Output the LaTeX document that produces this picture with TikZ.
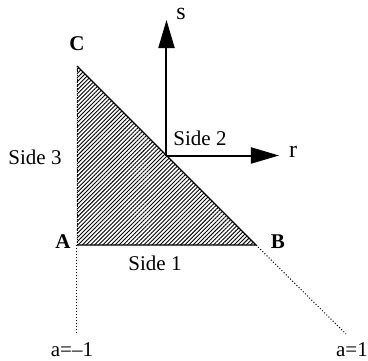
\documentclass[tikz,border=0pt]{standalone}
\usepackage{fontspec}
\setmainfont{Liberation Serif}
\usetikzlibrary{arrows.meta,patterns.meta}
\tikzset{
  lbl/.style={inner sep=0pt,font=\fontsize{21}{24}\selectfont},
  axlbl/.style={inner sep=0pt,font=\fontsize{24}{26}\selectfont},
  vlbl/.style={inner sep=0pt,font=\fontsize{21}{24}\selectfont\bfseries},
  axis/.style={line width=2pt,-{Triangle[length=28pt,width=16pt]}},
  edge/.style={line width=1.3pt},
  ext/.style={line width=1pt,dotted},
}
\begin{document}
\begin{tikzpicture}[x=1pt,y=-1pt]
\useasboundingbox (0,0) rectangle (368,360);
\coordinate (A) at (77,245);
\coordinate (B) at (256,245);
\coordinate (C) at (77,66);
\coordinate (O) at (166.5,155.5);
\coordinate (S) at (166.5,20);
\coordinate (R) at (279,155.5);
\coordinate (EA) at (77,333);
\coordinate (EB) at (346,334);
\fill[pattern={Lines[angle=45,distance=2.9pt,line width=0.9pt]}] (A) -- (B) -- (C) -- cycle;
\draw[edge] (A) -- (B) -- (C);
\draw[line width=0.8pt,densely dotted] (C) -- (A);
\draw[ext] (A) -- (EA);
\draw[ext] (B) -- (EB);
\draw[axis] (O) -- (S);
\draw[axis] (O) -- (R);
\node[vlbl] (lC) at (77,44) {C};
\node[vlbl] (lA) at (63,242) {A};
\node[vlbl] (lB) at (278,242) {B};
\node[lbl] (s1) at (155,263) {Side 1};
\node[lbl] (s2) at (200,138) {Side 2};
\node[lbl] (s3) at (35,157) {Side 3};
\node[axlbl,anchor=base] (ls) at (181,19) {s};
\node[axlbl] (lr) at (293,152) {r};
\node[lbl] (am) at (72,350) {a=\textendash1};
\node[lbl,anchor=east] (ap) at (368,350) {a=1};
\end{tikzpicture}
\end{document}
